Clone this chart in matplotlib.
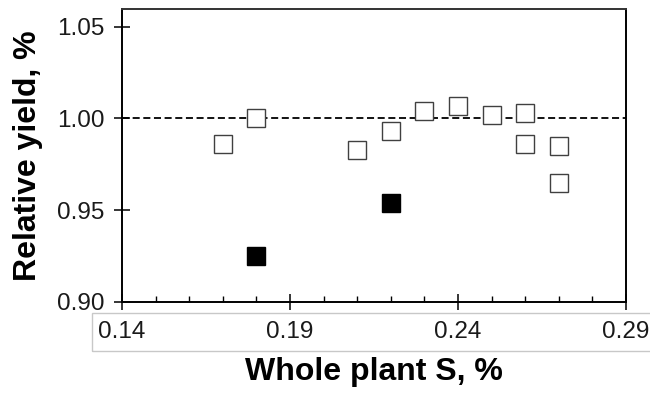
import matplotlib
matplotlib.use('Agg')
import matplotlib.pyplot as plt
import matplotlib.patches as patches

plt.rcParams['font.family'] = ['Liberation Sans', 'DejaVu Sans']

# data
s_open = [0.17, 0.18, 0.21, 0.22, 0.23, 0.24, 0.25, 0.26, 0.26, 0.27, 0.27]
y_open = [0.986, 1.000, 0.983, 0.993, 1.004, 1.007, 1.002, 1.003, 0.986, 0.985, 0.965]
s_fill = [0.18, 0.22]
y_fill = [0.925, 0.954]

x_ticks = [0.14, 0.19, 0.24, 0.29]
x_minor = [0.15, 0.16, 0.17, 0.18, 0.20, 0.21, 0.22, 0.23, 0.25, 0.26, 0.27, 0.28]
y_ticks = [0.90, 0.95, 1.00, 1.05]

fig = plt.figure(figsize=(6.5, 3.93), dpi=100)
ax = fig.add_axes([122 / 650, 1 - 302 / 393, (626 - 122) / 650, (302 - 9) / 393])

# reference line at 1.00
ax.axhline(1.0, color='black', lw=1.3, ls=(0, (3.9, 2.0)), zorder=1)

ax.plot(s_open, y_open, 's', ms=12.5, mfc='white', mec='#404040', mew=1.0, zorder=3)
ax.plot(s_fill, y_fill, 's', ms=12.5, mfc='black', mec='black', mew=1.0, zorder=3)

ax.set_xlim(0.14, 0.29)
ax.set_ylim(0.90, 1.0596)

ax.set_xticks(x_ticks)
ax.set_xticks(x_minor, minor=True)
ax.set_xticklabels([f'{v:.2f}' for v in x_ticks])
ax.set_yticks(y_ticks)
ax.set_yticklabels([f'{v:.2f}' for v in y_ticks])

ax.tick_params(axis='both', which='major', direction='inout', length=11.5, width=1.1,
               labelsize=17.5, labelcolor='#1a1a1a')
ax.tick_params(axis='x', which='major', pad=8)
ax.tick_params(axis='y', which='major', pad=7)
ax.tick_params(axis='x', which='minor', direction='in', length=4.5, width=1.0)

for side in ['left', 'bottom', 'right']:
    ax.spines[side].set_color('black')
    ax.spines[side].set_linewidth(1.4)
ax.spines['top'].set_color('#333333')
ax.spines['top'].set_linewidth(1.4)

ax.set_xlabel('Whole plant S, %', fontsize=23, fontweight='bold', labelpad=10)
ax.set_ylabel('Relative yield, %', fontsize=23, fontweight='bold', labelpad=10)

# light box around the x tick labels
fig.patches.append(patches.Rectangle((92 / 650, 1 - 351 / 393), (660 - 92) / 650, (351 - 313) / 393,
                                     transform=fig.transFigure, fill=False,
                                     edgecolor='#c8c8c8', linewidth=1.0, zorder=0))

fig.savefig('out.png', dpi=100)
